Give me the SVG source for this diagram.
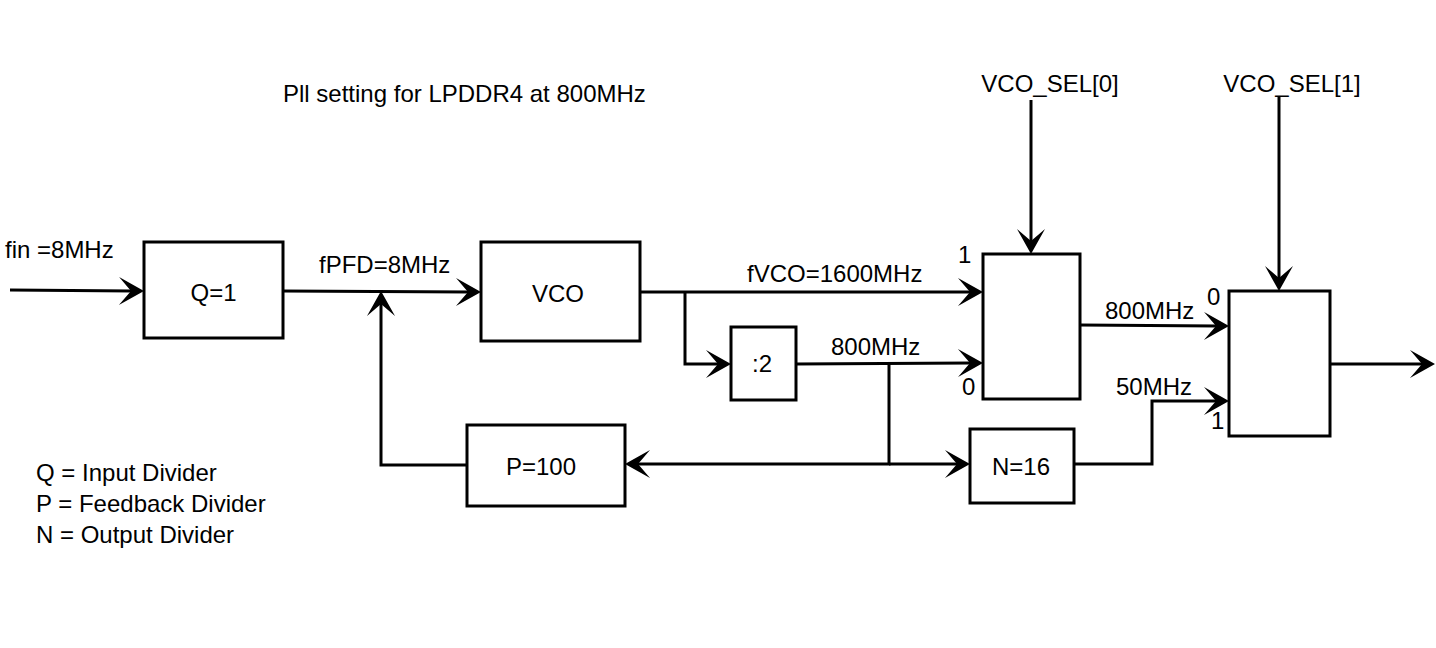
<svg xmlns="http://www.w3.org/2000/svg" width="1436" height="648" viewBox="0 0 1436 648">
<style>
.box{fill:#fff;stroke:#000;stroke-width:3}
.w{fill:none;stroke:#000;stroke-width:3}
text{font-family:"Liberation Sans",Arial,sans-serif;font-size:24px;fill:#000}
.c{text-anchor:middle}
</style>
<defs>
<marker id="ar" markerUnits="userSpaceOnUse" viewBox="-26 -15 28 30" refX="-12" refY="0" markerWidth="28" markerHeight="30" orient="auto">
<path d="M0,0 L-25,-14 L-13,0 L-25,14 Z" fill="#000"/>
</marker>
</defs>
<rect width="1436" height="648" fill="#fff"/>
<text x="283" y="102">Pll setting for LPDDR4 at 800MHz</text>
<text x="5" y="258">fin =8MHz</text>
<g id="legend">
<text x="36" y="481">Q = Input Divider</text>
<text x="36" y="512">P = Feedback Divider</text>
<text x="36" y="543">N = Output Divider</text>
</g>
<g id="connectors">
<path class="w" d="M10,290 L132,291" marker-end="url(#ar)"/>
<path class="w" d="M283,291 L469,292" marker-end="url(#ar)"/>
<path class="w" d="M467,465 L381,465 L381,303" marker-end="url(#ar)"/>
<path class="w" d="M640,292 L971,292" marker-end="url(#ar)"/>
<path class="w" d="M685,292 L685,364 L719,364" marker-end="url(#ar)"/>
<path class="w" d="M796,364 L971,363" marker-end="url(#ar)"/>
<path class="w" d="M889,363 L889,464 L637,464" marker-end="url(#ar)"/>
<path class="w" d="M889,464 L958,464" marker-end="url(#ar)"/>
<path class="w" d="M1080,325 L1217,326" marker-end="url(#ar)"/>
<path class="w" d="M1074,464 L1152,464 L1152,401 L1217,401" marker-end="url(#ar)"/>
<path class="w" d="M1330,364 L1423,364" marker-end="url(#ar)"/>
<path class="w" d="M1031,100 L1031,242" marker-end="url(#ar)"/>
<path class="w" d="M1279,97 L1279,279" marker-end="url(#ar)"/>
<text x="319" y="273">fPFD=8MHz</text>
<text x="747" y="282">fVCO=1600MHz</text>
<text x="831" y="355">800MHz</text>
<text x="1105" y="319">800MHz</text>
<text x="1116" y="395">50MHz</text>
<text x="958" y="263">1</text>
<text x="962" y="395">0</text>
<text x="1207" y="305">0</text>
<text x="1211" y="429">1</text>
<text x="1050" y="92" class="c">VCO_SEL[0]</text>
<text x="1292" y="92" class="c">VCO_SEL[1]</text>
</g>
<g id="q"><rect class="box" x="144" y="242" width="139" height="96"/><text class="c" x="213.5" y="301">Q=1</text></g>
<g id="vco"><rect class="box" x="481" y="242" width="159" height="99"/><text class="c" x="558" y="302">VCO</text></g>
<g id="div2"><rect class="box" x="731" y="327" width="65" height="73"/><text class="c" x="762" y="372">:2</text></g>
<g id="mux1"><rect class="box" x="983" y="254" width="97" height="145"/></g>
<g id="mux2"><rect class="box" x="1229" y="291" width="101" height="145"/></g>
<g id="p"><rect class="box" x="467" y="425" width="158" height="81"/><text class="c" x="541" y="475">P=100</text></g>
<g id="n"><rect class="box" x="970" y="429" width="104" height="74"/><text class="c" x="1021" y="475">N=16</text></g>
</svg>
